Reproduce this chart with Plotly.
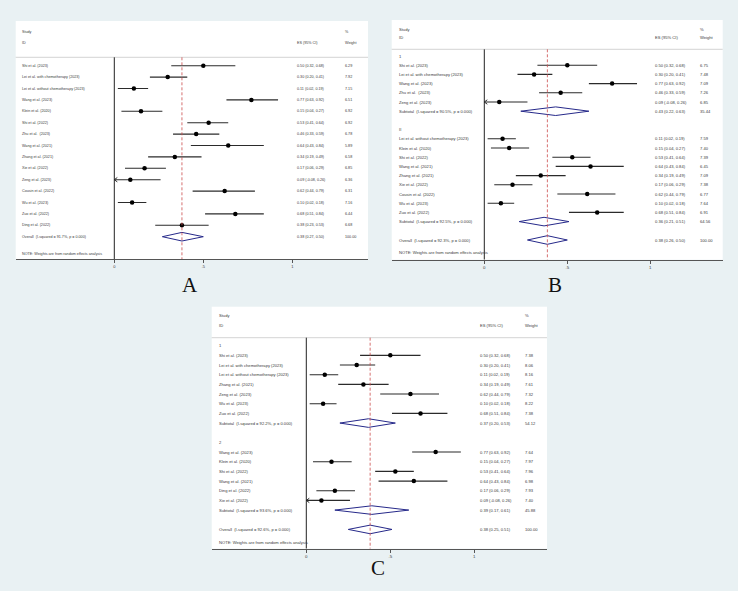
import plotly.graph_objects as go

W, H = 738, 591
BG = "#e9f1f3"
TXT = "#3a3a3a"
FONT = "Liberation Sans, Arial, sans-serif"
DIAMOND = "#26298a"
REFLINE = "#cc4b4b"

# ---------------- Panel A data ----------------
a_study = ["Shi et al. (2023)", "Lei et al. with chemotherapy (2023)",
           "Lei et al. without chemotherapy (2023)", "Wang et al. (2023)",
           "Klein et al. (2020)", "Shi et al. (2022)", "Zhu et al.  (2023)",
           "Wang et al. (2021)", "Zhang et al. (2021)", "Xie et al. (2022)",
           "Zeng et al. (2023)", "Cousin et al. (2022)", "Wu et al. (2023)",
           "Zuo et al. (2022)", "Ding et al. (2022)"]
a_es = [0.50, 0.30, 0.11, 0.77, 0.15, 0.53, 0.46, 0.64, 0.34, 0.17, 0.09, 0.62, 0.10, 0.68, 0.38]
a_lo = [0.32, 0.20, 0.02, 0.63, 0.04, 0.41, 0.33, 0.43, 0.19, 0.06, -0.08, 0.44, 0.02, 0.51, 0.23]
a_hi = [0.68, 0.41, 0.19, 0.92, 0.27, 0.64, 0.59, 0.84, 0.49, 0.29, 0.26, 0.79, 0.18, 0.84, 0.53]
a_wt = [6.29, 7.92, 7.15, 6.51, 6.92, 6.92, 6.78, 5.89, 6.58, 6.85, 6.36, 6.31, 7.16, 6.44, 6.68]
a_overall_label = "Overall  (I-squared = 91.7%, p = 0.000)"
a_overall = [0.38, 0.27, 0.50]

# ---------------- Panel B data ----------------
b1_name = "1"
b1_study = ["Shi et al. (2023)", "Lei et al. with chemotherapy (2023)", "Wang et al. (2023)",
            "Zhu et al.  (2023)", "Zeng et al. (2023)"]
b1_es = [0.50, 0.30, 0.77, 0.46, 0.09]
b1_lo = [0.32, 0.20, 0.63, 0.33, -0.08]
b1_hi = [0.68, 0.41, 0.92, 0.59, 0.26]
b1_wt = [6.75, 7.48, 7.09, 7.26, 6.85]
b1_sub_label = "Subtotal  (I-squared = 90.5%, p = 0.000)"
b1_sub = [0.43, 0.22, 0.63]
b1_sub_wt = 35.44

b2_name = "II"
b2_study = ["Lei et al. without chemotherapy (2023)", "Klein et al. (2020)", "Shi et al. (2022)",
            "Wang et al. (2021)", "Zhang et al. (2021)", "Xie et al. (2022)",
            "Cousin et al. (2022)", "Wu et al. (2023)", "Zuo et al. (2022)"]
b2_es = [0.11, 0.15, 0.53, 0.64, 0.34, 0.17, 0.62, 0.10, 0.68]
b2_lo = [0.02, 0.04, 0.41, 0.43, 0.19, 0.06, 0.44, 0.02, 0.51]
b2_hi = [0.19, 0.27, 0.64, 0.84, 0.49, 0.29, 0.79, 0.18, 0.84]
b2_wt = [7.59, 7.40, 7.39, 6.45, 7.09, 7.38, 6.77, 7.64, 6.91]
b2_sub_label = "Subtotal  (I-squared = 92.5%, p = 0.000)"
b2_sub = [0.36, 0.21, 0.51]
b2_sub_wt = 64.56
b_overall_label = "Overall  (I-squared = 92.3%, p = 0.000)"
b_overall = [0.38, 0.26, 0.50]

# ---------------- Panel C data ----------------
c1_name = "1"
c1_study = ["Shi et al. (2023)", "Lei et al. with chemotherapy (2023)",
            "Lei et al. without chemotherapy (2023)", "Zhang et al. (2021)",
            "Zeng et al. (2023)", "Wu et al. (2023)", "Zuo et al. (2022)"]
c1_es = [0.50, 0.30, 0.11, 0.34, 0.62, 0.10, 0.68]
c1_lo = [0.32, 0.20, 0.02, 0.19, 0.44, 0.02, 0.51]
c1_hi = [0.68, 0.41, 0.19, 0.49, 0.79, 0.18, 0.84]
c1_wt = [7.38, 8.06, 8.16, 7.61, 7.32, 8.22, 7.38]
c1_sub_label = "Subtotal  (I-squared = 92.2%, p = 0.000)"
c1_sub = [0.37, 0.20, 0.53]
c1_sub_wt = 54.12

c2_name = "2"
c2_study = ["Wang et al. (2023)", "Klein et al. (2020)", "Shi et al. (2022)",
            "Wang et al. (2021)", "Ding et al. (2022)", "Xie et al. (2022)"]
c2_es = [0.77, 0.15, 0.53, 0.64, 0.17, 0.09]
c2_lo = [0.63, 0.04, 0.41, 0.43, 0.06, -0.08]
c2_hi = [0.92, 0.27, 0.64, 0.84, 0.29, 0.26]
c2_wt = [7.64, 7.97, 7.96, 6.98, 7.93, 7.40]
c2_sub_label = "Subtotal  (I-squared = 93.6%, p = 0.000)"
c2_sub = [0.39, 0.17, 0.61]
c2_sub_wt = 45.88
c_overall_label = "Overall  (I-squared = 92.6%, p = 0.000)"
c_overall = [0.38, 0.25, 0.51]

tick_vals = [0, 0.5, 1]
tick_text = ["0", ".5", "1"]
note_text = "NOTE: Weights are from random effects analysis"
panel_letters = ["A", "B", "C"]

# ---------------- layout geometry (pixels) ----------------
GEOM = [
    dict(box=(15.7, 21, 368, 259.3), x0=114.3, x1=292.3, r0=65.7, step=11.4,
         study_y=31.7, id_y=43.3, line_y=57.3, lab_x=20, es_x=295, wt_x=342.7,
         fs=3.7, letter=(190, 285)),
    dict(box=(391.7, 20, 722.7, 259.7), x0=484.3, x1=650.3, r0=56, step=9.2,
         study_y=29.3, id_y=37.3, line_y=49.3, lab_x=396.5, es_x=653, wt_x=698.3,
         fs=4.1, letter=(555, 285)),
    dict(box=(211.7, 306.7, 547, 548.7), x0=306.3, x1=474.3, r0=345.7, step=9.67,
         study_y=315.7, id_y=325.7, line_y=337.7, lab_x=217.3, es_x=478.3, wt_x=523.3,
         fs=4.1, letter=(378.3, 568)),
]


def make_rows_single(study, es, lo, hi, wt, ov_label, ov):
    rows = []
    for i in range(len(study)):
        rows.append(("study", study[i], es[i], lo[i], hi[i], wt[i]))
    rows.append(("overall", ov_label, ov[0], ov[1], ov[2], 100.0))
    return rows, 1.5


def make_rows_groups(groups, ov_label, ov):
    rows = []
    for gi, g in enumerate(groups):
        name, study, es, lo, hi, wt, sl, sv, sw = g
        rows.append(("group", name))
        for i in range(len(study)):
            rows.append(("study", study[i], es[i], lo[i], hi[i], wt[i]))
        rows.append(("sub", sl, sv[0], sv[1], sv[2], sw))
        rows.append(("blank",))
    rows.append(("overall", ov_label, ov[0], ov[1], ov[2], 100.0))
    return rows, 1.4


panels = [
    make_rows_single(a_study, a_es, a_lo, a_hi, a_wt, a_overall_label, a_overall),
    make_rows_groups([
        (b1_name, b1_study, b1_es, b1_lo, b1_hi, b1_wt, b1_sub_label, b1_sub, b1_sub_wt),
        (b2_name, b2_study, b2_es, b2_lo, b2_hi, b2_wt, b2_sub_label, b2_sub, b2_sub_wt),
    ], b_overall_label, b_overall),
    make_rows_groups([
        (c1_name, c1_study, c1_es, c1_lo, c1_hi, c1_wt, c1_sub_label, c1_sub, c1_sub_wt),
        (c2_name, c2_study, c2_es, c2_lo, c2_hi, c2_wt, c2_sub_label, c2_sub, c2_sub_wt),
    ], c_overall_label, c_overall),
]

fig = go.Figure()
annotations = []
shapes = []
layout_axes = {}

for k, ((rows, note_gap), g) in enumerate(zip(panels, GEOM)):
    sfx = "" if k == 0 else str(k + 1)
    xr, yr = "x" + sfx, "y" + sfx
    L, T, R, B = g["box"]
    sc = g["x1"] - g["x0"]
    xrange = [(L - g["x0"]) / sc, (R - g["x0"]) / sc]
    rtop = (T - g["r0"]) / g["step"]
    rbot = (B - g["r0"]) / g["step"]
    fs = g["fs"]
    f = dict(family=FONT, size=fs, color=TXT)

    layout_axes["xaxis" + sfx] = dict(
        domain=[L / W, R / W], range=xrange, anchor=yr, showgrid=False, zeroline=False,
        showline=True, linecolor="#555", linewidth=1, ticks="outside", ticklen=3,
        tickcolor="#555", tickwidth=0.8, tickvals=tick_vals, ticktext=tick_text,
        tickfont=dict(family=FONT, size=fs + 0.3, color=TXT), fixedrange=True)
    layout_axes["yaxis" + sfx] = dict(
        domain=[1 - B / H, 1 - T / H], range=[rbot, rtop], anchor=xr, visible=False,
        showgrid=False, zeroline=False, fixedrange=True)

    def r_of(py):
        return (py - g["r0"]) / g["step"]

    # header texts
    for txt, px, py in [("Study", g["lab_x"], g["study_y"]), ("ID", g["lab_x"], g["id_y"]),
                        ("ES (95% CI)", g["es_x"], g["id_y"]), ("%", g["wt_x"], g["study_y"]),
                        ("Weight", g["wt_x"], g["id_y"])]:
        annotations.append(dict(x=px / W, xref="paper", y=r_of(py), yref=yr, text=txt,
                                showarrow=False, xanchor="left", yanchor="middle", font=f))
    hl = r_of(g["line_y"])
    shapes.append(dict(type="line", xref="paper", yref=yr, x0=L / W, x1=R / W, y0=hl, y1=hl,
                       line=dict(color="#c8c8c8", width=0.8)))
    # null line at 0
    shapes.append(dict(type="line", xref=xr, yref=yr, x0=0, x1=0, y0=hl, y1=rbot,
                       line=dict(color="#222", width=1)))

    ci_x, ci_y, pt_x, pt_y, ar_x, ar_y = [], [], [], [], [], []
    ax = 3.0 / sc
    ah = 2.2 / g["step"]
    hd = 4.3 / g["step"]
    overall_es = None
    r = 0
    for row in rows:
        kind = row[0]
        if kind == "group":
            annotations.append(dict(x=g["lab_x"] / W, xref="paper", y=r, yref=yr, text=row[1],
                                    showarrow=False, xanchor="left", yanchor="middle", font=f))
        elif kind in ("study", "sub", "overall"):
            _, lab, es, lo, hi, wt = row
            annotations.append(dict(x=g["lab_x"] / W, xref="paper", y=r, yref=yr, text=lab,
                                    showarrow=False, xanchor="left", yanchor="middle", font=f))
            annotations.append(dict(x=g["es_x"] / W, xref="paper", y=r, yref=yr,
                                    text=f"{es:.2f} ({lo:.2f}, {hi:.2f})",
                                    showarrow=False, xanchor="left", yanchor="middle", font=f))
            annotations.append(dict(x=g["wt_x"] / W, xref="paper", y=r, yref=yr,
                                    text=f"{wt:.2f}",
                                    showarrow=False, xanchor="left", yanchor="middle", font=f))
            if kind == "study":
                ci_x += [max(lo, 0), hi, None]
                ci_y += [r, r, None]
                pt_x.append(es)
                pt_y.append(r)
                if lo < 0:
                    ar_x += [ax, 0, ax, None]
                    ar_y += [r - ah, r, r + ah, None]
            else:
                fig.add_trace(go.Scatter(
                    x=[lo, es, hi, es, lo], y=[r, r - hd, r, r + hd, r], xaxis=xr, yaxis=yr,
                    mode="lines", fill="toself", fillcolor="white",
                    line=dict(color=DIAMOND, width=1), hoverinfo="skip", showlegend=False))
                if kind == "overall":
                    overall_es = es
                    note_r = r + note_gap
        r += 1

    # dashed overall reference line
    shapes.append(dict(type="line", xref=xr, yref=yr, x0=overall_es, x1=overall_es,
                       y0=hl, y1=rbot, line=dict(color=REFLINE, width=0.8, dash="3px,2px")))

    fig.add_trace(go.Scatter(x=ci_x, y=ci_y, xaxis=xr, yaxis=yr, mode="lines",
                             line=dict(color="#2b2b2b", width=1.1), hoverinfo="skip",
                             showlegend=False))
    fig.add_trace(go.Scatter(x=ar_x, y=ar_y, xaxis=xr, yaxis=yr, mode="lines",
                             line=dict(color="#2b2b2b", width=1), hoverinfo="skip",
                             showlegend=False))
    fig.add_trace(go.Scatter(x=pt_x, y=pt_y, xaxis=xr, yaxis=yr, mode="markers",
                             marker=dict(color="black", size=4.5, symbol="circle"),
                             hoverinfo="skip", showlegend=False))

    annotations.append(dict(x=g["lab_x"] / W, xref="paper", y=note_r, yref=yr, text=note_text,
                            showarrow=False, xanchor="left", yanchor="middle", font=f))
    annotations.append(dict(x=g["letter"][0] / W, xref="paper", y=1 - g["letter"][1] / H,
                            yref="paper", text=panel_letters[k], showarrow=False,
                            xanchor="center", yanchor="middle",
                            font=dict(family="Liberation Serif, Times New Roman, serif",
                                      size=21, color="#111")))

fig.update_layout(
    width=W, height=H, margin=dict(l=0, r=0, t=0, b=0),
    paper_bgcolor=BG, plot_bgcolor="white",
    annotations=annotations, shapes=shapes, showlegend=False,
    **layout_axes)

fig.write_html("out.html", config={"displayModeBar": False},
               post_script="document.body.style.margin='0px';"
                           "document.body.style.background='" + BG + "';")
